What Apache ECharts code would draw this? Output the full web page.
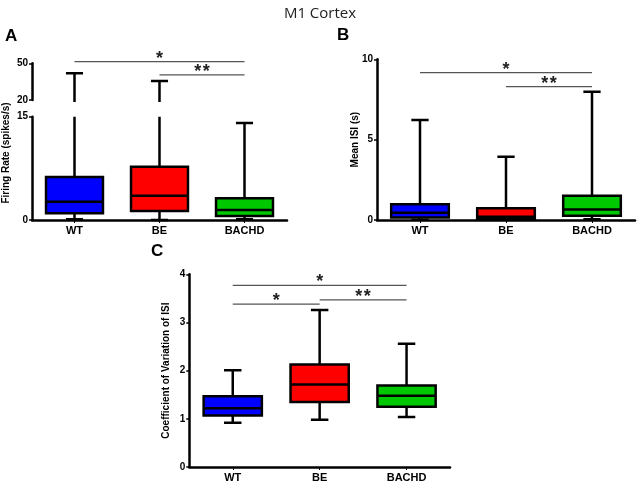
<!DOCTYPE html>
<html>
<head>
<meta charset="utf-8">
<script src="https://cdn.jsdelivr.net/npm/echarts@6/dist/echarts.min.js"></script>
<style>html,body{margin:0;padding:0;background:#fff}#c{width:640px;height:483px}</style>
</head>
<body>
<div id="c"></div>
<script>
// ---------- data ----------
const categories = ['WT', 'BE', 'BACHD'];
const boxColors = ['#0000ff', '#ff0000', '#00c800'];
// [min, Q1, median, Q3, max]
const firingRate = [
  [0.1, 0.97, 2.66, 6.24, 41.8],
  [0.0, 1.31, 3.53, 7.74, 35.5],
  [0.1, 0.58, 1.45, 3.15, 14.1]
];
const meanISI = [
  [0.02, 0.15, 0.45, 0.98, 6.22],
  [0.01, 0.06, 0.20, 0.73, 3.94],
  [0.05, 0.27, 0.66, 1.51, 7.98]
];
const cvISI = [
  [0.92, 1.07, 1.22, 1.47, 2.01],
  [0.98, 1.35, 1.71, 2.13, 3.26],
  [1.04, 1.25, 1.48, 1.69, 2.56]
];
// significance brackets: [fromIndex, toIndex, yValue, label]
const sigA = [[0, 2, 51.3, '*'], [1, 2, 40.5, '**']];
const sigB = [[0, 2, 9.17, '*'], [1, 2, 8.3, '**']];
const sigC = [[0, 2, 3.77, '*'], [0, 1, 3.38, '*'], [1, 2, 3.47, '**']];
// axis ticks
const ticksALow = [0, 15];
const ticksAHigh = [20, 50];
const ticksB = [0, 5, 10];
const ticksC = [0, 1, 2, 3, 4];

// ---------- chart ----------
const FONT = '"Liberation Sans", Arial, sans-serif';
const chart = echarts.init(document.getElementById('c'), null, {renderer: 'canvas'});

function boxRender(params, api) {
  const i = api.value(0);
  const mn = api.value(1), q1 = api.value(2), md = api.value(3), q3 = api.value(4), mx = api.value(5);
  const bw = api.size([1, 0])[0] * 0.67;
  const cw = bw * 0.3;
  const cx = api.coord([i, 0])[0];
  const yMin = api.coord([i, mn])[1], yQ1 = api.coord([i, q1])[1], yMd = api.coord([i, md])[1];
  const yQ3 = api.coord([i, q3])[1], yMax = api.coord([i, mx])[1];
  const ls = {stroke: '#000', lineWidth: 2.5};
  const cs = params.coordSys;
  return {
    type: 'group',
    clipPath: {type: 'rect', shape: {x: cs.x - 60, y: cs.y, width: cs.width + 120, height: cs.height + 2}},
    children: [
      {type: 'line', shape: {x1: cx, y1: yQ3, x2: cx, y2: yMax}, style: ls},
      {type: 'line', shape: {x1: cx - cw / 2, y1: yMax, x2: cx + cw / 2, y2: yMax}, style: ls},
      {type: 'line', shape: {x1: cx, y1: yQ1, x2: cx, y2: yMin}, style: ls},
      {type: 'line', shape: {x1: cx - cw / 2, y1: yMin, x2: cx + cw / 2, y2: yMin}, style: ls},
      {type: 'rect', shape: {x: cx - bw / 2, y: yQ3, width: bw, height: yQ1 - yQ3},
        style: {fill: boxColors[i], stroke: '#000', lineWidth: 2.5}},
      {type: 'line', shape: {x1: cx - bw / 2, y1: yMd, x2: cx + bw / 2, y2: yMd}, style: ls}
    ]
  };
}

function sigRender(arr) {
  return function (params, api) {
    const a = arr[params.dataIndex];
    const p1 = api.coord([a[0], a[2]]);
    const p2 = api.coord([a[1], a[2]]);
    return {
      type: 'group',
      children: [
        {type: 'line', shape: {x1: p1[0], y1: p1[1], x2: p2[0], y2: p2[1]},
          style: {stroke: '#555', lineWidth: 1.3}},
        {type: 'text', style: {text: a[3].split('').join('\u200A'), x: (p1[0] + p2[0]) / 2, y: p1[1] + 6,
          align: 'center', verticalAlign: 'bottom', fill: '#222',
          font: 'bold 18px ' + FONT}}
      ]
    };
  };
}

function xAx(gi, show) {
  return {
    type: 'category', gridIndex: gi, data: categories, show: show,
    axisLine: {lineStyle: {color: '#000', width: 2.5}},
    axisTick: {show: true, alignWithLabel: true, length: 3, lineStyle: {color: '#000', width: 1}},
    axisLabel: {color: '#000', fontWeight: 'bold', fontSize: 11, fontFamily: FONT, margin: 5},
    splitLine: {show: false}
  };
}
function yAx(gi, min, max, interval, ticks, extra) {
  return Object.assign({
    type: 'value', gridIndex: gi, min: min, max: max, interval: interval,
    axisLine: {show: true, lineStyle: {color: '#000', width: 2.5}},
    axisTick: {show: true, length: 3, lineStyle: {color: '#000', width: 1.5}, customValues: ticks},
    axisLabel: {color: '#000', fontWeight: 'bold', fontSize: 10, fontFamily: FONT, margin: 4,
      customValues: ticks,
      formatter: function (v) { return ticks.indexOf(v) >= 0 ? String(v) : ''; }},
    splitLine: {show: false}
  }, extra || {});
}
const yName = (name, gap) => ({
  name: name, nameLocation: 'middle', nameRotate: 90, nameGap: gap, nameMoveOverlap: false,
  nameTextStyle: {color: '#000', fontWeight: 'bold', fontSize: 10, fontFamily: FONT}
});

const toData = arr => arr.map((d, i) => [i].concat(d));
const sigData = arr => arr.map(a => [a[0], a[1], a[2]]);

chart.setOption({
  animation: false,
  backgroundColor: '#fff',
  title: {text: 'M1 Cortex', left: 'center', top: 1,
    textStyle: {color: '#222', fontWeight: 'normal', fontSize: 15, fontFamily: '"Open Sans", sans-serif'}},
  grid: [
    {left: 32, top: 116.7, width: 255, height: 103.3},
    {left: 32, top: 63.3, width: 255, height: 36.7},
    {left: 377, top: 59.3, width: 258, height: 160.7},
    {left: 189.3, top: 274.3, width: 260.7, height: 195}
  ],
  xAxis: [xAx(0, true), xAx(1, false), xAx(2, true), xAx(3, true)],
  yAxis: [
    yAx(0, 0, 15, 15, ticksALow),
    yAx(1, 20, 50, 10, ticksAHigh),
    yAx(2, 0, 10, 5, ticksB, yName('Mean ISI (s)', 17)),
    yAx(3, 0, 4, 1, ticksC, yName('Coefficient of Variation of ISI', 18))
  ],
  graphic: [
    {type: 'text', left: 5, top: 28, style: {text: 'A', font: 'bold 17px ' + FONT, fill: '#000'}},
    {type: 'text', left: 337, top: 27, style: {text: 'B', font: 'bold 17px ' + FONT, fill: '#000'}},
    {type: 'text', left: 151, top: 243, style: {text: 'C', font: 'bold 17px ' + FONT, fill: '#000'}},
    {type: 'text', x: 6, y: 153, rotation: Math.PI / 2,
      style: {text: 'Firing Rate (spikes/s)', font: 'bold 10px ' + FONT, fill: '#000',
        align: 'center', verticalAlign: 'middle'}}
  ],
  series: [
    {type: 'custom', xAxisIndex: 0, yAxisIndex: 0, renderItem: boxRender, data: toData(firingRate),
      encode: {x: 0, y: [1, 2, 3, 4, 5]}},
    {type: 'custom', xAxisIndex: 1, yAxisIndex: 1, renderItem: boxRender, data: toData(firingRate),
      encode: {x: 0, y: [1, 2, 3, 4, 5]}},
    {type: 'custom', xAxisIndex: 2, yAxisIndex: 2, renderItem: boxRender, data: toData(meanISI),
      encode: {x: 0, y: [1, 2, 3, 4, 5]}},
    {type: 'custom', xAxisIndex: 3, yAxisIndex: 3, renderItem: boxRender, data: toData(cvISI),
      encode: {x: 0, y: [1, 2, 3, 4, 5]}},
    {type: 'custom', xAxisIndex: 1, yAxisIndex: 1, renderItem: sigRender(sigA), data: sigData(sigA),
      encode: {x: [0, 1], y: 2}},
    {type: 'custom', xAxisIndex: 2, yAxisIndex: 2, renderItem: sigRender(sigB), data: sigData(sigB),
      encode: {x: [0, 1], y: 2}},
    {type: 'custom', xAxisIndex: 3, yAxisIndex: 3, renderItem: sigRender(sigC), data: sigData(sigC),
      encode: {x: [0, 1], y: 2}}
  ]
});
</script>
</body>
</html>
